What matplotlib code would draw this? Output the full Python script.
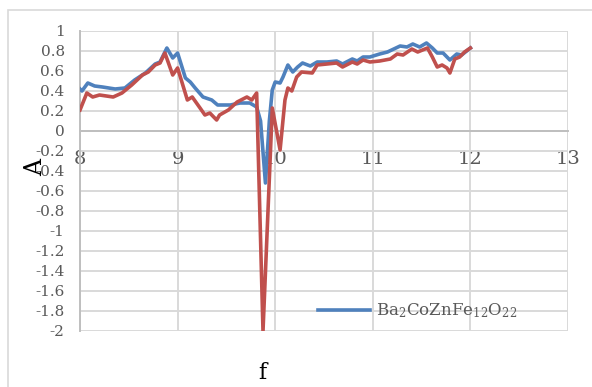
import numpy as np
import matplotlib
matplotlib.use("Agg")
import matplotlib.pyplot as plt
from matplotlib.patches import Rectangle
from matplotlib.lines import Line2D

plt.rcParams["font.family"] = ["DejaVu Serif"]
plt.rcParams["mathtext.fontset"] = "dejavuserif"

# Ba2CoZnFe12O22 (blue)
f_blue = [8.00, 8.02, 8.08, 8.15, 8.23, 8.36, 8.46, 8.56, 8.67, 8.77, 8.82, 8.89,
          8.95, 9.00, 9.08, 9.13, 9.18, 9.26, 9.35, 9.41, 9.54, 9.64, 9.74, 9.81,
          9.85, 9.90, 9.94, 9.97, 10.00, 10.05, 10.08, 10.13, 10.18, 10.23, 10.28,
          10.36, 10.43, 10.53, 10.63, 10.69, 10.79, 10.84, 10.90, 10.97, 11.07,
          11.15, 11.28, 11.35, 11.41, 11.48, 11.55, 11.61, 11.66, 11.72, 11.79,
          11.86, 11.91, 12.00]
a_blue = [0.42, 0.40, 0.48, 0.45, 0.44, 0.42, 0.43, 0.51, 0.58, 0.67, 0.69, 0.83,
          0.73, 0.78, 0.53, 0.49, 0.43, 0.34, 0.31, 0.26, 0.26, 0.28, 0.28, 0.24,
          0.10, -0.52, 0.10, 0.41, 0.49, 0.48, 0.54, 0.66, 0.59, 0.64, 0.68,
          0.65, 0.69, 0.69, 0.70, 0.67, 0.72, 0.70, 0.74, 0.74, 0.77,
          0.79, 0.85, 0.84, 0.87, 0.84, 0.88, 0.83, 0.78, 0.78, 0.71,
          0.77, 0.76, 0.83]

# second sample (red, not in legend)
f_red = [8.00, 8.07, 8.13, 8.20, 8.34, 8.43, 8.53, 8.64, 8.70, 8.77, 8.82, 8.87,
         8.95, 9.00, 9.10, 9.15, 9.23, 9.28, 9.33, 9.40, 9.43, 9.52, 9.61, 9.71,
         9.76, 9.81, 9.875, 9.97, 10.05, 10.10, 10.13, 10.17, 10.22, 10.27,
         10.38, 10.43, 10.53, 10.63, 10.69, 10.79, 10.84, 10.90, 10.97, 11.07,
         11.18, 11.25, 11.31, 11.40, 11.46, 11.56, 11.61, 11.66, 11.71, 11.76,
         11.79, 11.84, 11.89, 11.94, 12.00]
a_red = [0.21, 0.38, 0.34, 0.36, 0.34, 0.38, 0.46, 0.56, 0.59, 0.66, 0.68, 0.78,
         0.56, 0.63, 0.31, 0.34, 0.23, 0.16, 0.18, 0.11, 0.16, 0.21, 0.29, 0.34,
         0.31, 0.38, -2.0, 0.23, -0.19, 0.31, 0.43, 0.40, 0.54, 0.59,
         0.58, 0.66, 0.67, 0.68, 0.64, 0.69, 0.67, 0.71, 0.69, 0.70,
         0.72, 0.77, 0.76, 0.82, 0.79, 0.83, 0.74, 0.64, 0.66, 0.63,
         0.58, 0.72, 0.74, 0.79, 0.83]

x_ticks = [8, 9, 10, 11, 12, 13]
y_ticks = np.round(np.arange(-2, 1.01, 0.2), 1)
legend_label = r"Ba$_2$CoZnFe$_{12}$O$_{22}$"

BLUE = "#4F81BD"
RED = "#C0504D"
GRID = "#D9D9D9"
TXT = "#595959"

fig = plt.figure(figsize=(5.92, 3.87), dpi=100)
fig.patches.append(Rectangle((8 / 592, -0.1), 1.0, 1 - 10 / 387 + 0.1,
                             transform=fig.transFigure, fill=False,
                             edgecolor=GRID, lw=1.2))

ax = fig.add_axes([80 / 592, 1 - 331 / 387, 488 / 592, 300 / 387])
ax.plot(f_blue, a_blue, color=BLUE, lw=2.6, solid_joinstyle="round", zorder=3)
ax.plot(f_red, a_red, color=RED, lw=2.6, solid_joinstyle="round", zorder=4)

ax.set_xlim(8, 13)
ax.set_ylim(-2, 1)
ax.set_xticks(x_ticks)
ax.set_yticks(y_ticks)
ax.set_yticklabels(["0" if v == 0 else f"{v:g}" for v in y_ticks])
ax.grid(True, color=GRID, lw=1.4, zorder=0)
ax.set_axisbelow(True)

for s in ["top", "right"]:
    ax.spines[s].set_visible(False)
ax.spines["left"].set_color("#BFBFBF")
ax.spines["left"].set_linewidth(1.4)
ax.spines["bottom"].set_position(("data", 0))
ax.spines["bottom"].set_color("#BFBFBF")
ax.spines["bottom"].set_linewidth(1.4)

ax.tick_params(axis="x", length=0, pad=14, labelsize=14, labelcolor=TXT)
ax.tick_params(axis="y", length=0, pad=11, labelsize=11, labelcolor=TXT)

fig.text(36 / 592, 1 - 168 / 387, "A", rotation=90, fontsize=17,
         ha="center", va="center")
fig.text(262 / 592, 1 - 373 / 387, "f", fontsize=16, ha="center", va="center")

handle = Line2D([], [], color=BLUE, lw=2.6)
leg = ax.legend([handle], [legend_label], loc="center left",
                bbox_to_anchor=(318 / 592, 1 - 311 / 387),
                bbox_transform=fig.transFigure, frameon=False, fontsize=12,
                borderpad=0, borderaxespad=0, handlelength=3.1,
                handletextpad=0.35)
for t in leg.get_texts():
    t.set_color(TXT)

fig.savefig("out.png", dpi=100)
